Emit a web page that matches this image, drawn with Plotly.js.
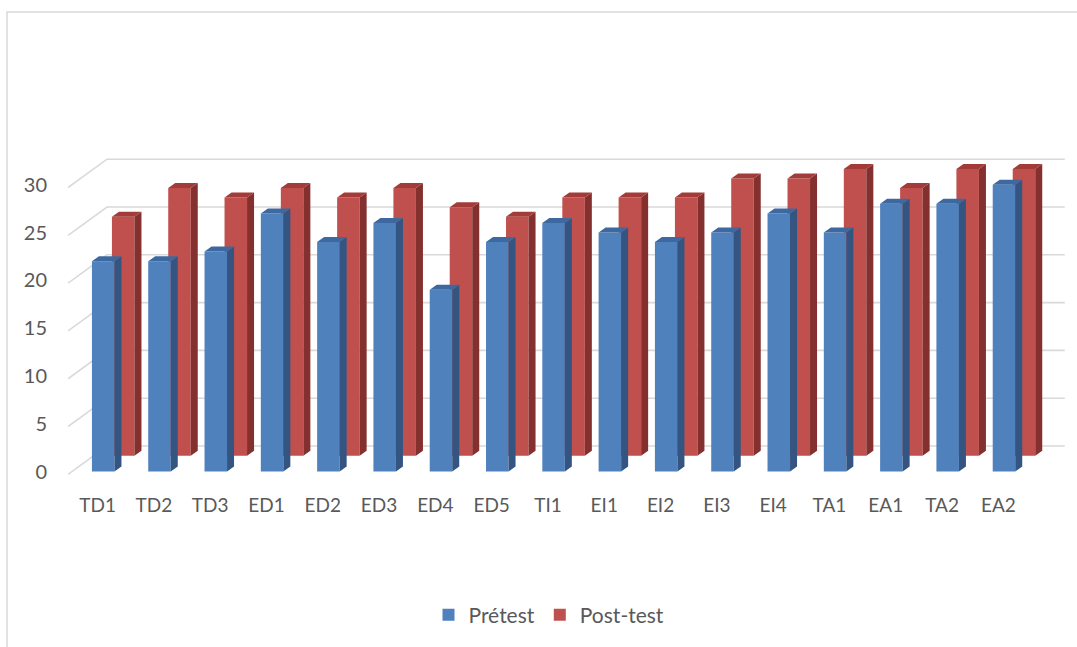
<!DOCTYPE html>
<html>
<head>
<meta charset="utf-8">
<script src="https://cdn.plot.ly/plotly-3.0.1.min.js"></script>
<style>
  html, body { margin: 0; padding: 0; background: #ffffff; }
  #chart { width: 1077px; height: 647px; }
</style>
</head>
<body>
<div id="chart"></div>
<script>
// Scores per item, before and after the programme
const categories = ['TD1', 'TD2', 'TD3', 'ED1', 'ED2', 'ED3', 'ED4', 'ED5', 'TI1',
                    'EI1', 'EI2', 'EI3', 'EI4', 'TA1', 'EA1', 'TA2', 'EA2'];
const pretest  = [22, 22, 23, 27, 24, 26, 19, 24, 26, 25, 24, 25, 27, 25, 28, 28, 30];
const posttest = [25, 28, 27, 28, 27, 28, 26, 25, 27, 27, 27, 29, 29, 30, 28, 30, 30];
const seriesNames = ['Prétest', 'Post-test'];
const yTicks = [0, 5, 10, 15, 20, 25, 30];

// ---- pseudo-3D geometry (in axis units) ----
const PX_X = 56.3;            // pixels per category
const PX_Y = 9.56;            // pixels per value unit
const ZERO_PX = 471.5;        // vertical pixel of value 0 on the front plane
const barW = 0.40;            // front face width
const sideDx = 7 / PX_X;      // bar depth, horizontal component
const sideDy = 5 / PX_Y;      // bar depth, vertical component
const rowDx = 20 / PX_X;      // second row shift (right)
const rowLift = 15.8 / PX_Y;  // second row shift (up)
const wallDx = 39 / PX_X;     // back wall shift (right)
const wallLift = 25.5 / PX_Y; // back wall shift (up)
const xStart = -0.625;
const xEnd = 17.297;
const wallRight = categories.length - 1 + 1.08;

const plotL = 68, plotR = 0, plotT = 100, plotB = 167;
const W = 1077, H = 647;
const plotW = W - plotL - plotR, plotH = H - plotT - plotB;

const colors = {
  pre:  { front: '#4F81BD', side: '#345581', top: '#3D69A0' },
  post: { front: '#C0504D', side: '#84302E', top: '#A33C39' }
};

const idx = categories.map((_, i) => i);

function facePolys(values, xShift, base, kind) {
  const xs = [], ys = [];
  values.forEach((v, i) => {
    const xl = i + xShift - barW / 2, xr = i + xShift + barW / 2;
    const top = base + v;
    if (kind === 'side') {
      xs.push(xr, xr + sideDx, xr + sideDx, xr, xr, null);
      ys.push(base, base + sideDy, top + sideDy, top, base, null);
    } else {
      xs.push(xl, xr, xr + sideDx, xl + sideDx, xl, null);
      ys.push(top, top, top + sideDy, top + sideDy, top, null);
    }
  });
  return { xs, ys };
}

function faceTrace(values, xShift, base, kind, color) {
  const p = facePolys(values, xShift, base, kind);
  return {
    type: 'scatter', x: p.xs, y: p.ys, mode: 'none',
    fill: 'toself', fillcolor: color, showlegend: false, hoverinfo: 'skip'
  };
}

// back wall and floor lines, kept under the bars
const wallShapes = yTicks.map(v => {
  const yw = v + wallLift;
  return {
    type: 'path', xref: 'x', yref: 'y', layer: 'below',
    path: 'M ' + xStart + ' ' + (v - 0.3) + ' L ' + (xStart + wallDx) + ' ' + yw +
          ' L ' + wallRight + ' ' + yw,
    line: { color: '#D9D9D9', width: 1.6 }
  };
});

const traces = [
  { type: 'bar', name: seriesNames[1], x: idx.map(i => i + rowDx), y: posttest,
    base: rowLift, width: barW, marker: { color: colors.post.front, line: { width: 0 } },
    legendrank: 2 },
  { type: 'bar', name: seriesNames[0], x: idx, y: pretest,
    base: 0, width: barW, marker: { color: colors.pre.front, line: { width: 0 } },
    legendrank: 1 },
  faceTrace(posttest, rowDx, rowLift, 'side', colors.post.side),
  faceTrace(posttest, rowDx, rowLift, 'top', colors.post.top),
  faceTrace(pretest, 0, 0, 'side', colors.pre.side),
  faceTrace(pretest, 0, 0, 'top', colors.pre.top)
];

const font = 'Lato, "Liberation Sans", Arial, sans-serif';

const borderX = (7 - plotL) / plotW;
const borderTop = (H - plotB - 12) / plotH;
const borderBottom = -(plotB + 10) / plotH;
const borderRight = (W + 5 - plotL) / plotW;

const layout = {
  width: W, height: H,
  margin: { l: plotL, r: plotR, t: plotT, b: plotB, pad: 0 },
  paper_bgcolor: '#ffffff', plot_bgcolor: 'rgba(0,0,0,0)',
  barmode: 'overlay',
  hovermode: false,
  font: { family: font, color: '#595959' },
  xaxis: {
    range: [xStart, xEnd], showgrid: false, zeroline: false, showline: false,
    tickmode: 'array', tickvals: idx.map(i => i - 0.1), ticktext: categories,
    ticks: '', ticklabelstandoff: 12,
    tickfont: { family: font, size: 19, color: '#595959' }
  },
  yaxis: {
    range: [-(H - plotB - ZERO_PX) / PX_Y, (ZERO_PX - plotT) / PX_Y],
    showgrid: false, zeroline: false, showline: false,
    tickmode: 'array', tickvals: yTicks, ticks: '', ticklabelstandoff: 20,
    tickfont: { family: font, size: 20, color: '#595959' }
  },
  showlegend: true,
  legend: {
    orientation: 'h', x: (549 - plotL) / plotW, xanchor: 'center',
    y: (H - plotB - 615) / plotH, yanchor: 'middle',
    font: { family: font, size: 21, color: '#595959' },
    itemwidth: 30, traceorder: 'normal'
  },
  shapes: wallShapes.concat([{
    type: 'path', xref: 'paper', yref: 'paper',
    path: 'M ' + borderX + ' ' + borderBottom + ' L ' + borderX + ' ' + borderTop +
          ' L ' + borderRight + ' ' + borderTop,
    line: { color: '#D9D9D9', width: 1.5 }
  }])
};

Plotly.newPlot('chart', traces, layout, { displayModeBar: false, staticPlot: true });
</script>
</body>
</html>
